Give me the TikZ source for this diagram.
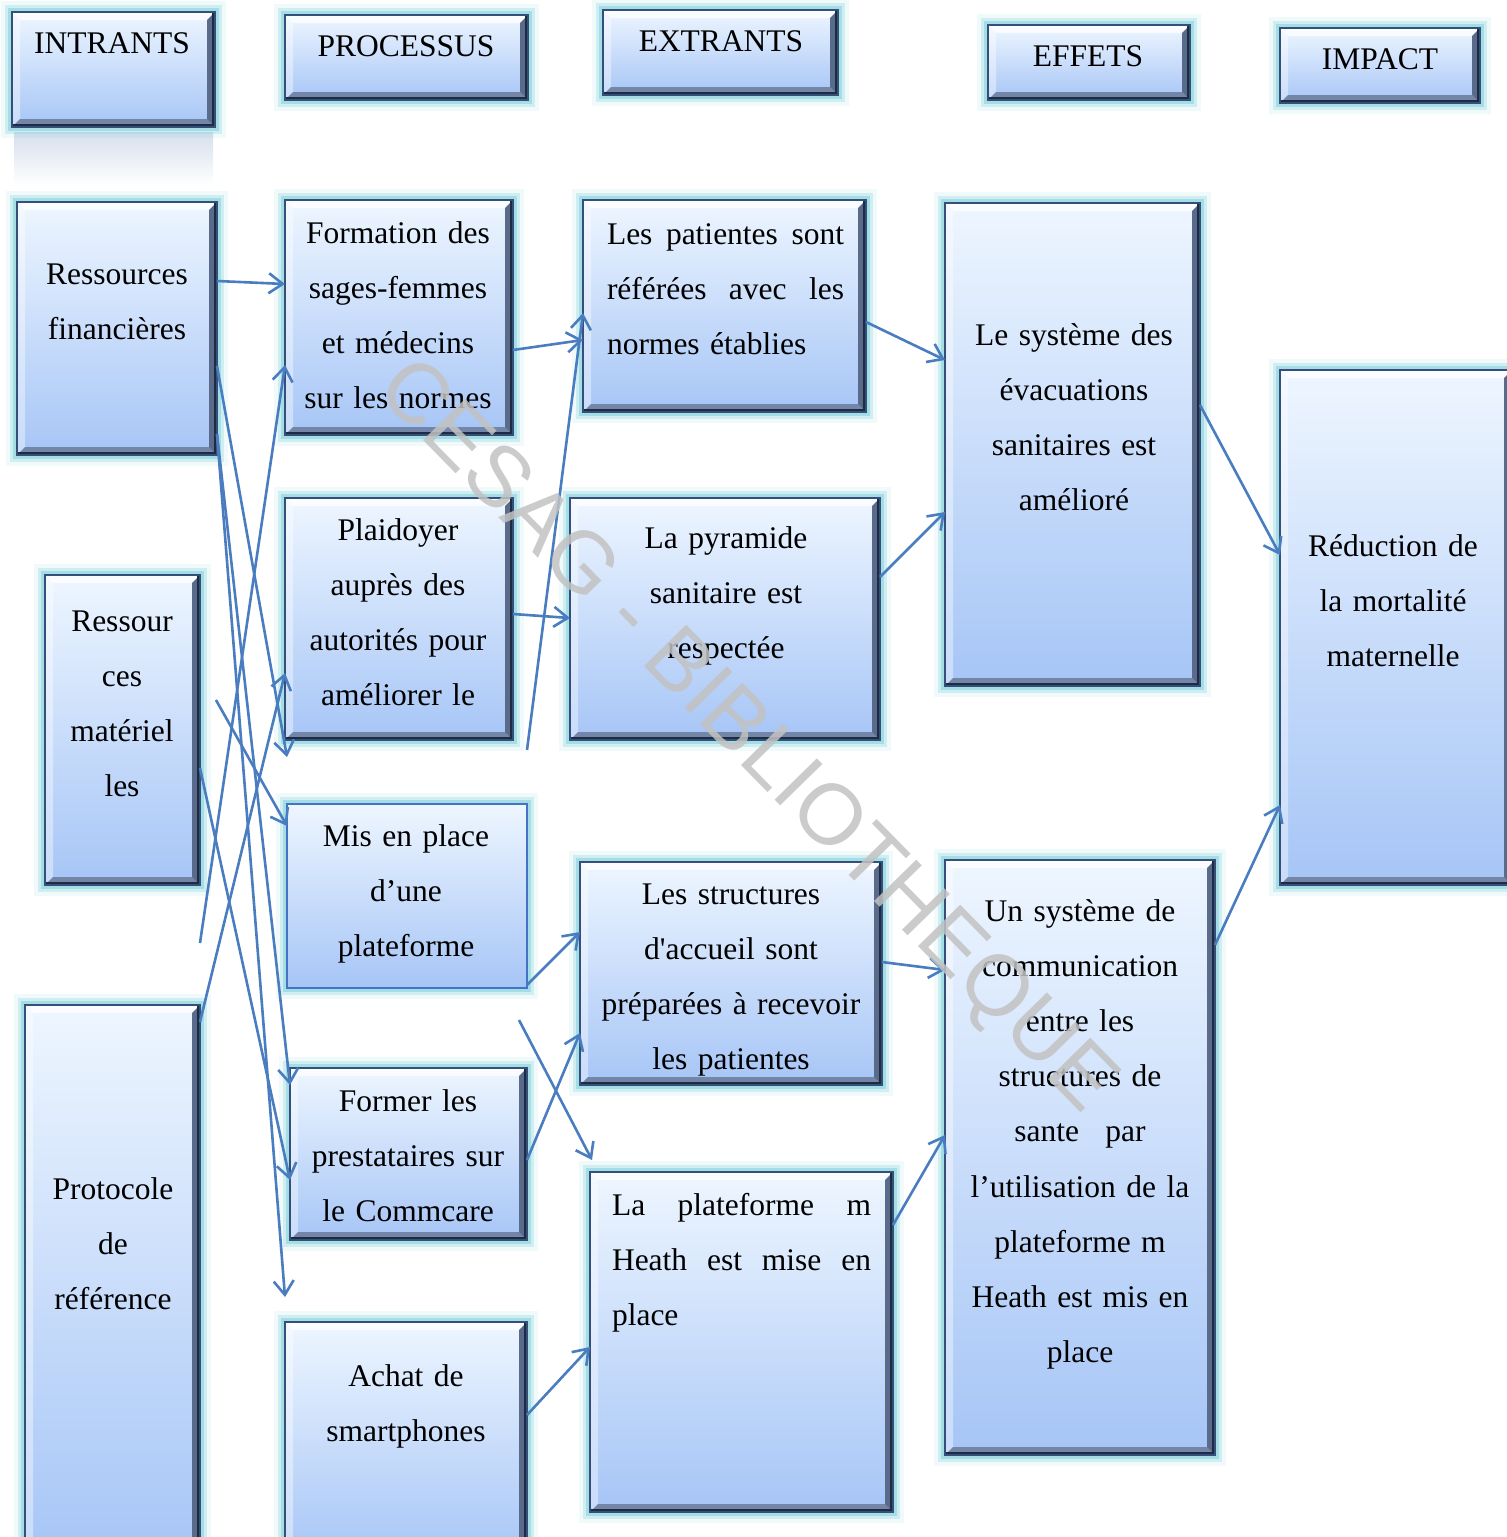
\documentclass[tikz,border=0pt]{standalone}
\usepackage{fontspec}
\setmainfont{Liberation Serif}
\newfontfamily\wmfont{Liberation Sans}
\usetikzlibrary{arrows.meta,fit}

\definecolor{boxtop}{HTML}{EEF6FF}
\definecolor{boxbot}{HTML}{A6C5F6}
\definecolor{edgecol}{HTML}{34507A}
\definecolor{edgedark}{HTML}{1E2B40}
\definecolor{bevbotcol}{HTML}{7486A8}
\definecolor{bevrightcol}{HTML}{5A6A8A}
\definecolor{glowcol}{HTML}{86D3DE}
\definecolor{flatedge}{HTML}{4472C4}
\definecolor{linkcol}{HTML}{4A7DC0}
\definecolor{reflcol}{HTML}{D5DFEC}
\definecolor{wmcol}{HTML}{C2C2C2}

\tikzset{
  glow/.style={preaction={draw=glowcol,line width=11pt,opacity=.12},
               preaction={draw=glowcol,line width=7pt,opacity=.3},
               preaction={draw=glowcol,line width=4pt,opacity=.6}},
  bevelbox/.style={glow, draw=edgecol, line width=0.9pt, inner sep=0pt, outer sep=0pt,
    top color=boxtop, bottom color=boxbot,
    path picture={
      \path (path picture bounding box.north west) coordinate (bnw)
            (path picture bounding box.north east) coordinate (bne)
            (path picture bounding box.south west) coordinate (bsw)
            (path picture bounding box.south east) coordinate (bse);
      \fill[white,opacity=.75] (bnw) -- (bne) -- ([shift={(-4pt,-4pt)}]bne) -- ([shift={(4pt,-4pt)}]bnw) -- cycle;
      \fill[white,opacity=.4] (bnw) -- ([shift={(4pt,-4pt)}]bnw) -- ([shift={(4pt,4pt)}]bsw) -- (bsw) -- cycle;
      \fill[bevbotcol] (bsw) -- ([shift={(4pt,4pt)}]bsw) -- ([shift={(-4pt,4pt)}]bse) -- (bse) -- cycle;
      \fill[bevrightcol] (bne) -- (bse) -- ([shift={(-4pt,4pt)}]bse) -- ([shift={(-4pt,-4pt)}]bne) -- cycle;
      \draw[edgedark,line width=3pt] (bne) -- (bse) -- (bsw);
    }},
  flatbox/.style={glow, draw=flatedge, line width=1pt, inner sep=0pt, outer sep=0pt,
    top color=boxtop, bottom color=boxbot},
  txt/.style={text width=150pt, align=center, inner sep=0pt, anchor=base,
    font=\fontsize{15.75pt}{27.6pt}\selectfont},
  link/.style={draw=linkcol, line width=1.3pt, -{Straight Barb[length=7pt,width=10pt]}},
  wmark/.style={text=wmcol, opacity=.85, inner sep=0pt, font=\wmfont\fontsize{43pt}{43pt}\selectfont}
}

\begin{document}
\begin{tikzpicture}[x=0.5pt,y=-0.5pt]
  \useasboundingbox (0,0) rectangle (1506,1537);

  % reflection under the first title
  \shade[top color=reflcol, bottom color=white] (14,132) rectangle (213,185);

  % titles
  \node[bevelbox, fit={(12,12) (215,127)}] (intr) {};
  \node[bevelbox, fit={(285,15) (528,100)}] (proc) {};
  \node[bevelbox, fit={(603,10) (838,95)}] (extr) {};
  \node[bevelbox, fit={(988,25) (1190,100)}] (eff) {};
  \node[bevelbox, fit={(1280,28) (1480,103)}] (imp) {};

  % intrants
  \node[bevelbox, fit={(17,202) (217,455)}] (rf) {};
  \node[bevelbox, fit={(45,575) (200,885)}] (rm) {};
  \node[bevelbox, fit={(25,1005) (200,1560)}] (proto) {};

  % processus
  \node[bevelbox, fit={(285,200) (513,435)}] (form) {};
  \node[bevelbox, fit={(285,498) (513,740)}] (plai) {};
  \node[flatbox, fit={(287,804) (527,988)}] (mis) {};
  \node[bevelbox, fit={(290,1068) (527,1240)}] (former) {};
  \node[bevelbox, fit={(285,1322) (527,1560)}] (achat) {};

  % extrants
  \node[bevelbox, fit={(583,200) (866,412)}] (pat) {};
  \node[bevelbox, fit={(570,498) (880,740)}] (pyr) {};
  \node[bevelbox, fit={(580,862) (882,1085)}] (struc) {};
  \node[bevelbox, fit={(590,1172) (893,1512)}] (plate) {};

  % effets
  \node[bevelbox, fit={(945,203) (1200,686)}] (sys1) {};
  \node[bevelbox, fit={(945,860) (1215,1455)}] (sys2) {};

  % impact
  \node[bevelbox, fit={(1280,370) (1512,885)}] (red) {};

  % free ends
  \coordinate (tipA) at (287,757);
  \coordinate (tipB) at (285,1297);
  \coordinate (startC) at (216,700);
  \coordinate (startD) at (200,943);
  \coordinate (startE) at (527,750);
  \coordinate (startF) at (519,1020);
  \coordinate (tipF) at (592,1160);

  % intrants -> processus
  \draw[link] (rf.east |- 0,281) -- (form.west |- 0,284);
  \draw[link] (rf.east |- 0,366) -- (tipA);
  \draw[link] (rf.east |- 0,434) -- (former.west |- 0,1085);
  \draw[link] (rf.east |- 0,434) -- (tipB);
  \draw[link] (startC) -- (mis.west |- 0,826);
  \draw[link] (rm.east |- 0,768) -- (former.west |- 0,1180);
  \draw[link] (startD) -- (form.west |- 0,365);
  \draw[link] (proto.east |- 0,1022) -- (plai.west |- 0,673);

  % processus -> extrants
  \draw[link] (form.east |- 0,350) -- (pat.west |- 0,340);
  \draw[link] (startE) -- (pat.west |- 0,313);
  \draw[link] (plai.east |- 0,614) -- (pyr.west |- 0,618);
  \draw[link] (mis.east |- 0,985) -- (struc.west |- 0,932);
  \draw[link] (startF) -- (tipF);
  \draw[link] (former.east |- 0,1160) -- (struc.west |- 0,1033);
  \draw[link] (achat.east |- 0,1415) -- (plate.west |- 0,1347);

  % extrants -> effets
  \draw[link] (pat.east |- 0,322) -- (sys1.west |- 0,360);
  \draw[link] (pyr.east |- 0,577) -- (sys1.west |- 0,512);
  \draw[link] (struc.east |- 0,962) -- (sys2.west |- 0,970);
  \draw[link] (plate.east |- 0,1225) -- (sys2.west |- 0,1135);

  % effets -> impact
  \draw[link] (sys1.east |- 0,405) -- (red.west |- 0,555);
  \draw[link] (sys2.east |- 0,945) -- (red.west |- 0,805);

  % texts
  \node[txt] (intr-t) at (112,53) {INTRANTS};
  \node[txt] (proc-t) at (406,56) {PROCESSUS};
  \node[txt] (extr-t) at (721,51) {EXTRANTS};
  \node[txt] (eff-t) at (1088,66) {EFFETS};
  \node[txt] (imp-t) at (1380,69) {IMPACT};

  \node[txt] (rf-t) at (117,284) {Ressources\\financières};
  \node[txt] (rm-t) at (122,631) {Ressour\\ces\\matériel\\les};
  \node[txt] (proto-t) at (113,1199) {Protocole\\de\\référence};

  \node[txt] (form-t) at (398,243) {Formation des\\sages-femmes\\et médecins\\sur les normes};
  \node[txt] (plai-t) at (398,540) {Plaidoyer\\auprès des\\autorités pour\\améliorer le};
  \node[txt] (mis-t) at (406,846) {Mis en place\\d’une\\plateforme};
  \node[txt] (former-t) at (408,1111) {Former les\\prestataires sur\\le Commcare};
  \node[txt] (achat-t) at (406,1386) {Achat de\\smartphones};

  \node[txt, text width=118.5pt, align=left] (pat-t) at (725.5,244)
    {\makebox[\linewidth]{Les\hfill patientes\hfill sont}\\\makebox[\linewidth]{référées\hfill avec\hfill les}\\normes établies};
  \node[txt] (pyr-t) at (726,548) {La pyramide\\sanitaire est\\respectée};
  \node[txt] (struc-t) at (731,904) {Les structures\\d\textquotesingle accueil sont\\préparées à recevoir\\les patientes};
  \node[txt, text width=129.5pt, align=left] (plate-t) at (741.5,1215)
    {\makebox[\linewidth]{La\hfill plateforme\hfill m}\\\makebox[\linewidth]{Heath\hfill est\hfill mise\hfill en}\\place};

  \node[txt] (sys1-t) at (1074,345) {Le système des\\évacuations\\sanitaires est\\amélioré};
  \node[txt] (sys2-t) at (1080,921) {Un système de\\communication\\entre les\\structures de\\sante\hspace{0.5em} par\\l’utilisation de la\\plateforme m\\Heath est mis en\\place};

  \node[txt] (red-t) at (1393,556) {Réduction de\\la mortalité\\maternelle};

  % watermark
  \node[wmark, rotate=-45.6] (wm) at (745,738) {CESAG - BIBLIOTHEQUE};
\end{tikzpicture}
\end{document}
